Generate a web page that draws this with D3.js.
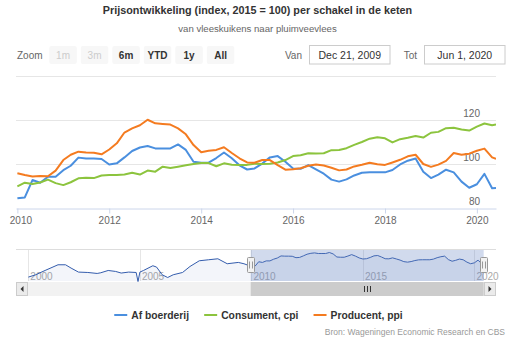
<!DOCTYPE html>
<html>
<head>
<meta charset="utf-8">
<script src="https://cdn.jsdelivr.net/npm/d3@7"></script>
<style>
  body { margin: 0; background: #fff; }
  svg { display: block; font-family: "Liberation Sans", Arial, sans-serif; }
</style>
</head>
<body>
<div class="chart"></div>
<script>
// Data (index, 2015 = 100), one value per two months
const dates = [
  "2010-01","2010-03","2010-05","2010-07","2010-09","2010-11",
  "2011-01","2011-03","2011-05","2011-07","2011-09","2011-11",
  "2012-01","2012-03","2012-05","2012-07","2012-09","2012-11",
  "2013-01","2013-03","2013-05","2013-07","2013-09","2013-11",
  "2014-01","2014-03","2014-05","2014-07","2014-09","2014-11",
  "2015-01","2015-03","2015-05","2015-07","2015-09","2015-11",
  "2016-01","2016-03","2016-05","2016-07","2016-09","2016-11",
  "2017-01","2017-03","2017-05","2017-07","2017-09","2017-11",
  "2018-01","2018-03","2018-05","2018-07","2018-09","2018-11",
  "2019-01","2019-03","2019-05","2019-07","2019-09","2019-11",
  "2020-01","2020-03","2020-05","2020-06"
]

const afBoerderij = [
  84.4, 84.8, 92.7, 91.5, 94.2, 94.2,
  97.2, 99.2, 102.9, 102.5, 102.5, 102.3,
  99.8, 100.3, 103, 105.9, 107.5, 108.2,
  107.1, 107.1, 107.1, 108.9, 106.4, 101,
  100.6, 100.6, 102.7, 105.2, 102.6, 99.4,
  97.5, 98, 100.2, 103, 103.6, 101,
  98, 97.8, 99.5, 97.6, 95.6, 92.9,
  92, 93, 94.8, 96, 96.2, 96.2,
  96.2, 97.3, 99.8, 101.5, 102.5, 96.5,
  93.6, 95.2, 97.4, 96.2, 92, 89.2,
  90.8, 95.5, 89, 89.1
]

const consument = [
  89.8, 91.5, 90.9, 91.6, 92.9, 91.3,
  90.4, 91.7, 93.5, 93.8, 93.6, 94.8,
  95, 95, 95.2, 96, 95.2, 97,
  96.5, 98.8, 98.2, 98.8, 99.4, 100,
  100.5, 100.4, 99, 100.3, 99.7, 99.5,
  99.6, 100.1, 100, 100.1, 100.7, 101.8,
  103.6, 104, 104.9, 104.8, 104.9, 106.3,
  106.4, 107.2, 108.7, 110, 111.5, 112.2,
  111.7, 109.8, 111.3, 111.9, 112.7, 112,
  114.2, 114.6, 116.3, 116.5, 115.7, 115.2,
  117, 118.4, 117.6, 118
]

const producent = [
  95.8, 95, 94.3, 94.5, 94.4, 97,
  101.8, 104.2, 105.6, 105.2, 105.1, 104.4,
  106.6, 109.4, 114.3, 116.2, 117.6, 120.1,
  118.5, 118.2, 117.9, 116.2, 113.5, 108.6,
  105.3, 106, 106.4, 107.6, 105, 102.6,
  100.7, 100.6, 101.8, 101.8, 99.5, 97.4,
  97.6, 98.1, 99.2, 99.8, 99.3, 98.3,
  97.1, 97.5, 98.9, 99.7, 100.6, 99.9,
  99.6, 100.7, 101.9, 103.5, 104.2, 100,
  98.7, 99.7, 101.4, 105, 104.2, 104.7,
  106, 107, 103, 102.3
]

// older part of "Af boerderij" that only shows in the navigator
const historieDates = [
  "2000-01","2000-05","2000-10","2001-05","2001-09","2001-12",
  "2002-04","2002-09","2003-02","2003-04","2003-08","2003-12",
  "2004-03","2004-07","2004-11","2004-12","2005-01","2005-03",
  "2005-08","2005-10","2006-01","2006-04","2006-07","2006-12",
  "2007-04","2007-09","2008-02","2008-07","2008-12","2009-06","2009-09"
]
const historieAfBoerderij = [
  65.8, 69.9, 77.4, 87.4, 87.4, 81.6,
  74.6, 73.9, 72.2, 73.4, 77.4, 75.7,
  72.9, 74.6, 73.9, 58.1, 74.6, 77.4,
  85.7, 83.4, 69.9, 65.1, 69.9, 73.9,
  84.4, 94.4, 96.2, 97.9, 89.2, 91.5, 89.2
]

const seriesNames = ["Af boerderij", "Consument, cpi", "Producent, ppi"]
const seriesValues = [afBoerderij, consument, producent]
const colors = ["#4a8fdf", "#8cc43e", "#f47b20"]
const yTicks = [80, 100, 120, 140]
const yLabels = [80, 100, 120]
const navYears = [2000, 2005, 2010, 2015, 2020]
const zoomButtons = ["1m", "3m", "6m", "YTD", "1y", "All"]
const disabledButtons = ["1m", "3m"]

const width = 515, height = 345
const plot = {left: 16, right: 496, top: 76, bottom: 208}
const nav = {top: 249, bottom: 281}

const parse = d3.timeParse("%Y-%m")
const startDate = new Date(2009, 11, 21), endDate = new Date(2020, 5, 1)

const x = d3.scaleTime()
    .domain([startDate, endDate])
    .range([plot.left, plot.right])

const y = d3.scaleLinear()
    .domain([80, 140])
    .range([plot.bottom, plot.top])

const svg = d3.select(".chart").append("svg")
    .attr("width", width)
    .attr("height", height)

// title + subtitle
svg.append("text")
    .attr("x", 257.5).attr("y", 14)
    .attr("text-anchor", "middle")
    .style("font-size", "10.8px").style("font-weight", "bold").attr("fill", "#333")
    .text("Prijsontwikkeling (index, 2015 = 100) per schakel in de keten")

svg.append("text")
    .attr("x", 257.5).attr("y", 32)
    .attr("text-anchor", "middle")
    .style("font-size", "9.6px").attr("fill", "#666")
    .text("van vleeskuikens naar pluimveevlees")

// range selector
svg.append("text")
    .attr("x", 17).attr("y", 58.5)
    .style("font-size", "10px").attr("fill", "#666")
    .text("Zoom")

const btn = svg.selectAll(".btn")
    .data(zoomButtons)
    .enter().append("g")
    .attr("class", "btn")
    .attr("transform", (d, i) => "translate(" + (49.3 + i * 31.5) + ",46)")

btn.append("rect")
    .attr("width", 27.5).attr("height", 18).attr("rx", 2)
    .attr("fill", "#f7f7f7")

btn.append("text")
    .attr("x", 13.75).attr("y", 12.5)
    .attr("text-anchor", "middle")
    .style("font-size", "10px")
    .style("font-weight", d => disabledButtons.includes(d) ? "normal" : "bold")
    .attr("fill", d => disabledButtons.includes(d) ? "#cccccc" : "#333")
    .text(d => d)

const fmt = d3.timeFormat("%b %-d, %Y")
const inputs = [
  {label: "Van", lx: 302, bx: 309.5, date: startDate},
  {label: "Tot", lx: 417, bx: 424.5, date: endDate}
]
inputs.forEach(inp => {
  svg.append("text")
      .attr("x", inp.lx).attr("y", 58.5)
      .attr("text-anchor", "end")
      .style("font-size", "10px").attr("fill", "#666")
      .text(inp.label)
  svg.append("rect")
      .attr("x", inp.bx).attr("y", 45.5)
      .attr("width", 80.5).attr("height", 18.5)
      .attr("fill", "#fff").attr("stroke", "#cccccc")
  svg.append("text")
      .attr("x", inp.bx + 40.25).attr("y", 58.5)
      .attr("text-anchor", "middle")
      .style("font-size", "10.5px").attr("fill", "#333")
      .text(fmt(inp.date))
})

// grid
svg.append("g").selectAll("line")
    .data(yTicks.filter(d => d > 80))
    .enter().append("line")
    .attr("x1", plot.left).attr("x2", plot.right)
    .attr("y1", d => Math.round(y(d)) + 0.5).attr("y2", d => Math.round(y(d)) + 0.5)
    .attr("stroke", "#e6e6e6")

// x axis
const xAxis = d3.axisBottom(x)
    .ticks(d3.timeYear.every(2))
    .tickFormat(d3.timeFormat("%Y"))
    .tickSize(5)
    .tickSizeOuter(0)

const gx = svg.append("g")
    .attr("transform", "translate(0," + (plot.bottom + 0.5) + ")")
    .call(xAxis)
gx.select(".domain").attr("stroke", "#ccd6eb")
gx.selectAll(".tick line").attr("stroke", "#ccd6eb")
gx.selectAll(".tick text")
    .attr("fill", "#666")
    .style("font-size", "10px")
    .style("font-family", "inherit")
    .attr("y", 8)
// first label is kept inside the chart like the original
gx.selectAll(".tick text").filter((d, i) => i === 0).attr("dx", 3)

// y labels (inside, on the right)
svg.append("g").selectAll("text")
    .data(yLabels)
    .enter().append("text")
    .attr("x", 480).attr("y", d => y(d) - 3)
    .attr("text-anchor", "end")
    .style("font-size", "10px").attr("fill", "#666")
    .text(d => d)

// lines
svg.append("clipPath").attr("id", "clip")
    .append("rect")
    .attr("x", plot.left).attr("y", plot.top - 5)
    .attr("width", plot.right - plot.left).attr("height", plot.bottom - plot.top + 10)

const parsedDates = dates.map(parse)
const line = d3.line()
    .x(d => x(d.date))
    .y(d => y(d.value))

const series = seriesNames.map((name, i) => ({
  name: name,
  color: colors[i],
  values: seriesValues[i].map((v, j) => ({date: parsedDates[j], value: v}))
}))

svg.append("g").attr("clip-path", "url(#clip)")
    .selectAll("path")
    .data(series)
    .enter().append("path")
    .attr("d", d => line(d.values))
    .attr("fill", "none")
    .attr("stroke", d => d.color)
    .attr("stroke-width", 2)
    .attr("stroke-linejoin", "round")

// navigator
const navData = historieDates.map((d, i) => ({date: parse(d), value: historieAfBoerderij[i]}))
    .concat(series[0].values)

const nx = d3.scaleTime()
    .domain([new Date(1999, 5, 13), new Date(2020, 11, 20)])
    .range([plot.left, plot.right])

const ny = d3.scaleLinear()
    .domain(d3.extent(navData, d => d.value))
    .range([nav.bottom + 0.5, nav.top + 3.5])

const navG = svg.append("g")

navG.selectAll(".navgrid")
    .data(navYears)
    .enter().append("line")
    .attr("x1", d => Math.round(nx(new Date(d, 0, 1))) + 0.5)
    .attr("x2", d => Math.round(nx(new Date(d, 0, 1))) + 0.5)
    .attr("y1", nav.top).attr("y2", nav.bottom)
    .attr("stroke", "#e6e6e6")

navG.selectAll(".navlabel")
    .data(navYears)
    .enter().append("text")
    .attr("x", d => nx(new Date(d, 0, 1)) + 2)
    .attr("y", nav.bottom - 1.5)
    .style("font-size", "10px").attr("fill", "#aaa")
    .text(d => d)

navG.append("path")
    .attr("d", d3.area().x(d => nx(d.date)).y0(nav.bottom).y1(d => ny(d.value))(navData))
    .attr("fill", "#335cad").attr("fill-opacity", 0.06)

navG.append("path")
    .attr("d", d3.line().x(d => nx(d.date)).y(d => ny(d.value))(navData))
    .attr("fill", "none").attr("stroke", "#335cad").attr("stroke-width", 1)

const maskL = nx(startDate), maskR = nx(endDate)
navG.append("rect")
    .attr("x", maskL).attr("y", nav.top)
    .attr("width", maskR - maskL).attr("height", nav.bottom - nav.top)
    .attr("fill", "rgba(102,133,194,0.3)")

navG.append("line")
    .attr("x1", plot.left).attr("x2", plot.right)
    .attr("y1", nav.top + 0.5).attr("y2", nav.top + 0.5)
    .attr("stroke", "#dddddd")

const handle = navG.selectAll(".handle")
    .data([maskL, maskR])
    .enter().append("g")
    .attr("transform", d => "translate(" + Math.round(d) + "," + 257.5 + ")")
handle.append("rect")
    .attr("x", -3.5).attr("width", 7).attr("height", 15).attr("rx", 1)
    .attr("fill", "#f2f2f2").attr("stroke", "#999")
handle.append("path")
    .attr("d", "M-1.5,4V11M1.5,4V11")
    .attr("stroke", "#999")

// scrollbar
const sb = {top: 282, h: 14}
svg.append("rect")
    .attr("x", plot.left).attr("y", sb.top)
    .attr("width", plot.right - plot.left).attr("height", sb.h)
    .attr("fill", "#f2f2f2")
svg.append("rect")
    .attr("x", maskL).attr("y", sb.top)
    .attr("width", maskR - maskL).attr("height", sb.h)
    .attr("fill", "#cccccc")
const rifleX = Math.round((maskL + maskR) / 2)
svg.append("path")
    .attr("d", "M" + (rifleX - 2.5) + ",286V292M" + (rifleX + 0.5) + ",286V292M" + (rifleX + 3.5) + ",286V292")
    .attr("stroke", "#333").attr("stroke-width", 1)
const sbButtons = [{x: plot.left, dir: -1}, {x: plot.right - 12, dir: 1}]
sbButtons.forEach(b => {
  svg.append("rect")
      .attr("x", b.x + 0.5).attr("y", sb.top + 0.5)
      .attr("width", 11).attr("height", sb.h - 1)
      .attr("fill", "#ebebeb").attr("stroke", "#cccccc")
  const cx = b.x + 6, cy = sb.top + sb.h / 2
  svg.append("path")
      .attr("d", b.dir < 0
        ? "M" + (cx + 1.5) + "," + (cy - 3) + "L" + (cx - 1.5) + "," + cy + "L" + (cx + 1.5) + "," + (cy + 3) + "Z"
        : "M" + (cx - 1.5) + "," + (cy - 3) + "L" + (cx + 1.5) + "," + cy + "L" + (cx - 1.5) + "," + (cy + 3) + "Z")
      .attr("fill", "#333")
})

// legend
const legend = svg.append("g").attr("class", "legend")
const items = legend.selectAll("g")
    .data(series)
    .enter().append("g")
items.append("line")
    .attr("x1", 0).attr("x2", 13)
    .attr("y1", 315).attr("y2", 315)
    .attr("stroke", d => d.color).attr("stroke-width", 2)
items.append("text")
    .attr("x", 17).attr("y", 318.5)
    .style("font-size", "10.3px").style("font-weight", "bold").attr("fill", "#333")
    .text(d => d.name)

let offset = 0
const itemX = []
items.each(function() {
  itemX.push(offset)
  offset += this.getBBox().width + 15
})
const startX = 258.5 - (offset - 15) / 2
items.attr("transform", (d, i) => "translate(" + (startX + itemX[i]) + ",0)")

// credits
svg.append("text")
    .attr("x", 505).attr("y", 334.5)
    .attr("text-anchor", "end")
    .style("font-size", "8.5px").attr("fill", "#999")
    .text("Bron: Wageningen Economic Research en CBS")
</script>
</body>
</html>
